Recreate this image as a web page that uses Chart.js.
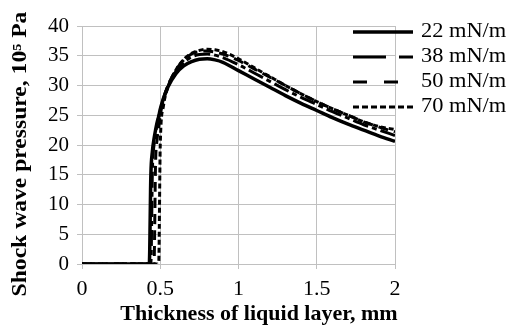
<!DOCTYPE html>
<html>
<head>
<meta charset="utf-8">
<script src="https://cdn.jsdelivr.net/npm/chart.js@4/dist/chart.umd.min.js"></script>
<style>
  html, body { margin: 0; padding: 0; background: #fff; }
  #wrap { width: 509px; height: 334px; position: relative; }
</style>
</head>
<body>
<div id="wrap"><canvas id="chart"></canvas></div>
<script>
// --- DATOS ---
const thickness = [0, 0.42, 0.43, 0.44, 0.45, 0.46, 0.47, 0.48, 0.49, 0.5,
  0.52, 0.55, 0.6, 0.65, 0.7, 0.75, 0.8, 0.85, 0.9,
  1.0, 1.1, 1.2, 1.3, 1.4, 1.5, 1.6, 1.7, 1.8, 1.9, 2.0];

const p22 = [0, 0, 0, 15, 19, 21, 22.5, 23.8, 24.8, 26,
  27.8, 29.8, 32, 33.3, 34, 34.4, 34.5, 34.3, 33.9,
  32.5, 31.1, 29.7, 28.3, 27, 25.8, 24.6, 23.5, 22.5, 21.5, 20.6];
const p38 = [0, 0, 0, 0, 16, 20, 22, 23.5, 24.7, 25.8,
  27.8, 30, 32.4, 33.9, 34.8, 35.2, 35.3, 35.1, 34.7,
  33.5, 32.1, 30.7, 29.3, 28, 26.8, 25.6, 24.5, 23.4, 22.5, 21.6];
const p50 = [0, 0, 0, 0, 0, 0, 17, 21, 23, 25,
  27.5, 30, 32.6, 34.3, 35.3, 35.7, 35.8, 35.6, 35.3,
  34.2, 32.8, 31.4, 30, 28.6, 27.3, 26.1, 25, 23.9, 23, 22.2];
const p70 = [0, 0, 0, 0, 0, 0, 0, 0, 0, 20,
  26.5, 29.8, 32.6, 34.4, 35.4, 35.9, 36.1, 36, 35.7,
  34.5, 33, 31.5, 30, 28.6, 27.3, 26.1, 25, 23.9, 23.1, 22.6];

const seriesLabels = ['22 mN/m', '38 mN/m', '50 mN/m', '70 mN/m'];
const xTicks = [0, 0.5, 1, 1.5, 2];
const yTicks = [0, 5, 10, 15, 20, 25, 30, 35, 40];

const xTitle = 'Thickness of liquid layer, mm';
const yTitle = 'Shock wave pressure, 10\u2075 Pa';

// --- ESTILOS ---
const serif = '"Liberation Serif", "Times New Roman", serif';
const gridColor = '#c0c0c0';
const lineStyles = [
  { width: 3.5, dash: [], legendDash: [] },
  { width: 3, dash: [16, 4, 5, 4], legendDash: [33, 13, 14, 0] },
  { width: 3, dash: [10, 6], legendDash: [14, 17] },
  { width: 3, dash: [5, 3], legendDash: [6, 3] }
];

const toPoints = (vals) => thickness.map((x, i) => ({ x: x, y: vals[i] }));

const datasets = [p22, p38, p50, p70].map((vals, i) => ({
  label: seriesLabels[i],
  data: toPoints(vals),
  borderColor: '#000',
  borderWidth: lineStyles[i].width,
  borderDash: lineStyles[i].dash,
  pointRadius: 0,
  cubicInterpolationMode: 'monotone',
  fill: false
}));

// Títulos de ejes y leyenda dibujados a mano
const decorPlugin = {
  id: 'decor',
  afterDraw(chart) {
    const ctx = chart.ctx;
    ctx.save();
    ctx.fillStyle = '#000';
    ctx.font = 'bold 22px ' + serif;
    ctx.textAlign = 'center';
    ctx.textBaseline = 'alphabetic';
    ctx.fillText(xTitle, 259, 320);
    ctx.restore();

    ctx.save();
    ctx.fillStyle = '#000';
    ctx.font = 'bold 20px ' + serif;
    ctx.textAlign = 'center';
    ctx.textBaseline = 'alphabetic';
    ctx.translate(26, 154);
    ctx.rotate(-Math.PI / 2);
    ctx.scale(1.18, 1);
    ctx.fillText(yTitle, 0, 0);
    ctx.restore();

    // leyenda
    const rows = [32, 57, 82, 107];
    chart.data.datasets.forEach((ds, i) => {
      const y = rows[i];
      ctx.save();
      ctx.strokeStyle = '#000';
      ctx.lineWidth = ds.borderWidth;
      ctx.setLineDash(lineStyles[i].legendDash);
      ctx.beginPath();
      ctx.moveTo(353, y);
      ctx.lineTo(413, y);
      ctx.stroke();
      ctx.setLineDash([]);
      ctx.fillStyle = '#000';
      ctx.font = '20px ' + serif;
      ctx.textAlign = 'left';
      ctx.textBaseline = 'alphabetic';
      ctx.translate(421, y + 5);
      ctx.scale(1.12, 1);
      ctx.fillText(ds.label, 0, 0);
      ctx.restore();
    });
  }
};

new Chart(document.getElementById('chart'), {
  type: 'line',
  data: { datasets: datasets },
  options: {
    responsive: true,
    maintainAspectRatio: false,
    animation: false,
    layout: { padding: { top: 26, right: 114, left: 0, bottom: 0 } },
    plugins: {
      legend: { display: false },
      tooltip: { enabled: false }
    },
    scales: {
      x: {
        type: 'linear',
        min: 0,
        max: 2,
        afterBuildTicks: (scale) => { scale.ticks = xTicks.map(v => ({ value: v })); },
        afterFit: (scale) => { scale.height = 70; },
        ticks: {
          color: '#000',
          font: { family: serif, size: 22 },
          padding: 7,
          maxRotation: 0,
          callback: (v) => String(v)
        },
        grid: { color: gridColor, lineWidth: 1, tickLength: 5 },
        border: { color: gridColor }
      },
      y: {
        min: 0,
        max: 40,
        afterBuildTicks: (scale) => { scale.ticks = yTicks.map(v => ({ value: v })); },
        afterFit: (scale) => { scale.width = 82; },
        ticks: {
          color: '#000',
          font: { family: serif, size: 21 },
          padding: 8
        },
        grid: { color: gridColor, lineWidth: 1, tickLength: 5 },
        border: { color: gridColor }
      }
    }
  },
  plugins: [decorPlugin]
});
</script>
</body>
</html>
